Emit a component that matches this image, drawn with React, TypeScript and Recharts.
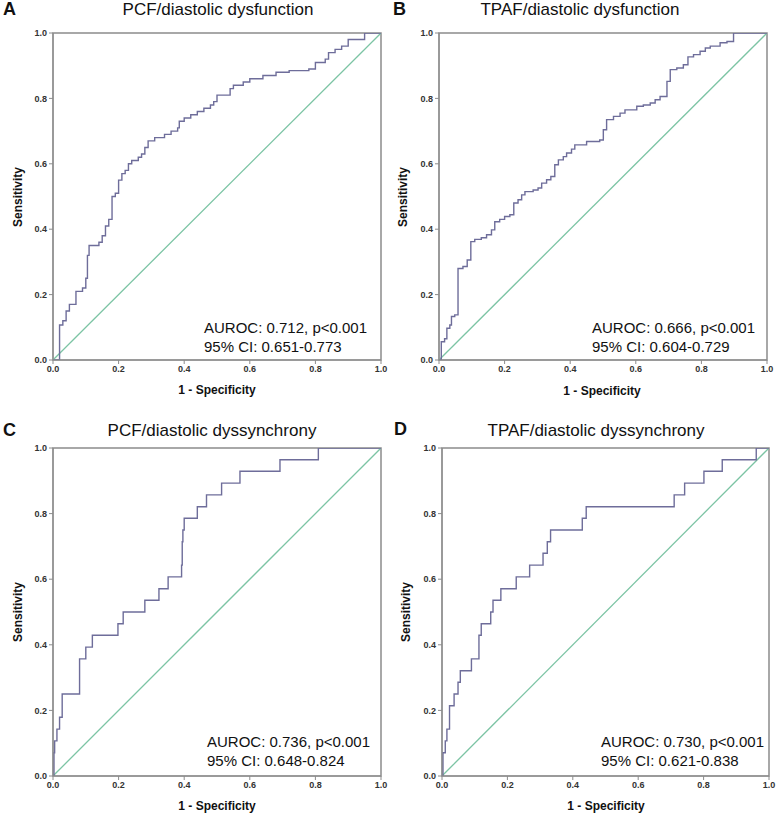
import { LineChart, Line, XAxis, YAxis, ReferenceArea } from "recharts";

// 1 - specificity (fpr) and sensitivity (tpr) at the top of each step
const pcfDysfunctionFpr = [0, 0.02, 0.03, 0.04, 0.05, 0.07, 0.09, 0.1, 0.105, 0.11, 0.14, 0.15, 0.16, 0.17, 0.18, 0.19, 0.2, 0.21, 0.22, 0.23, 0.24, 0.26, 0.27, 0.28, 0.29, 0.31, 0.34, 0.36, 0.38, 0.385, 0.4, 0.42, 0.44, 0.46, 0.48, 0.49, 0.5, 0.54, 0.55, 0.58, 0.6, 0.64, 0.68, 0.72, 0.78, 0.8, 0.83, 0.84, 0.86, 0.88, 0.9, 0.95, 1.0];
const pcfDysfunctionTpr = [0, 0.107, 0.12, 0.15, 0.17, 0.21, 0.22, 0.25, 0.32, 0.35, 0.36, 0.38, 0.41, 0.43, 0.5, 0.51, 0.55, 0.57, 0.58, 0.6, 0.61, 0.62, 0.63, 0.65, 0.67, 0.68, 0.69, 0.7, 0.71, 0.73, 0.74, 0.75, 0.76, 0.77, 0.78, 0.79, 0.81, 0.83, 0.84, 0.85, 0.86, 0.87, 0.88, 0.885, 0.89, 0.91, 0.92, 0.94, 0.95, 0.96, 0.98, 1.0, 1.0];

const tpafDysfunctionFpr = [0, 0.007, 0.017, 0.024, 0.033, 0.038, 0.048, 0.058, 0.058, 0.073, 0.086, 0.097, 0.109, 0.129, 0.145, 0.16, 0.17, 0.185, 0.2, 0.216, 0.228, 0.241, 0.252, 0.262, 0.287, 0.302, 0.313, 0.328, 0.341, 0.353, 0.364, 0.379, 0.389, 0.404, 0.414, 0.45, 0.49, 0.501, 0.511, 0.532, 0.552, 0.567, 0.603, 0.623, 0.644, 0.659, 0.674, 0.695, 0.695, 0.705, 0.725, 0.745, 0.759, 0.776, 0.796, 0.812, 0.827, 0.857, 0.878, 0.898, 1.0];
const tpafDysfunctionTpr = [0, 0.056, 0.065, 0.097, 0.107, 0.133, 0.138, 0.143, 0.28, 0.286, 0.306, 0.362, 0.369, 0.374, 0.383, 0.398, 0.423, 0.43, 0.439, 0.444, 0.48, 0.49, 0.505, 0.515, 0.52, 0.526, 0.541, 0.551, 0.561, 0.597, 0.612, 0.622, 0.633, 0.645, 0.658, 0.668, 0.673, 0.704, 0.735, 0.745, 0.755, 0.765, 0.776, 0.78, 0.786, 0.796, 0.806, 0.827, 0.852, 0.888, 0.893, 0.903, 0.927, 0.934, 0.944, 0.954, 0.96, 0.97, 0.974, 1.0, 1.0];

const pcfDyssyncFpr = [0, 0.003, 0.005, 0.012, 0.02, 0.028, 0.081, 0.1, 0.12, 0.198, 0.214, 0.28, 0.323, 0.351, 0.392, 0.394, 0.396, 0.4, 0.44, 0.468, 0.514, 0.57, 0.692, 0.809, 1.0];
const pcfDyssyncTpr = [0, 0.071, 0.107, 0.143, 0.179, 0.25, 0.357, 0.393, 0.429, 0.464, 0.5, 0.536, 0.571, 0.607, 0.643, 0.714, 0.75, 0.786, 0.821, 0.857, 0.893, 0.929, 0.964, 1.0, 1.0];

const tpafDyssyncFpr = [0, 0.003, 0.01, 0.015, 0.023, 0.037, 0.049, 0.056, 0.09, 0.113, 0.12, 0.149, 0.156, 0.18, 0.227, 0.268, 0.309, 0.322, 0.332, 0.429, 0.441, 0.71, 0.742, 0.801, 0.857, 0.961, 1.0];
const tpafDyssyncTpr = [0, 0.071, 0.107, 0.143, 0.214, 0.25, 0.286, 0.321, 0.357, 0.429, 0.464, 0.5, 0.536, 0.571, 0.607, 0.643, 0.679, 0.714, 0.75, 0.786, 0.821, 0.857, 0.893, 0.929, 0.964, 1.0, 1.0];

const diagonalX = [0, 1];
const diagonalY = [0, 1];

const axisTicks = [0, 0.2, 0.4, 0.6, 0.8, 1.0];

const titles = ["PCF/diastolic dysfunction", "TPAF/diastolic dysfunction", "PCF/diastolic dyssynchrony", "TPAF/diastolic dyssynchrony"];
const letters = ["A", "B", "C", "D"];
const aurocs = ["AUROC: 0.712, p<0.001", "AUROC: 0.666, p<0.001", "AUROC: 0.736, p<0.001", "AUROC: 0.730, p<0.001"];
const cis = ["95% CI: 0.651-0.773", "95% CI: 0.604-0.729", "95% CI: 0.648-0.824", "95% CI: 0.621-0.838"];

const toPoints = (xs: number[], ys: number[]) => xs.map((x, i) => ({ x, y: ys[i] }));

const curves = [
  toPoints(pcfDysfunctionFpr, pcfDysfunctionTpr),
  toPoints(tpafDysfunctionFpr, tpafDysfunctionTpr),
  toPoints(pcfDyssyncFpr, pcfDyssyncTpr),
  toPoints(tpafDyssyncFpr, tpafDyssyncTpr),
];
const diagonal = toPoints(diagonalX, diagonalY);

// layout of each panel on the page
const panels = [
  { left: 0, top: 0, w: 390, h: 410, margin: { top: 33, right: 9, bottom: 20, left: 23 }, xAxisH: 30 },
  { left: 390, top: 0, w: 388, h: 410, margin: { top: 33, right: 11, bottom: 20, left: 19 }, xAxisH: 30 },
  { left: 0, top: 410, w: 390, h: 411, margin: { top: 38, right: 9, bottom: 15, left: 23 }, xAxisH: 30 },
  { left: 390, top: 410, w: 388, h: 411, margin: { top: 38, right: 9, bottom: 15, left: 22 }, xAxisH: 30 },
];

const labels = [
  { letterX: 3, letterY: 15, titleX: 218, titleY: 15, statX: 204, statY: 333, sensX: 22, sensY: 197, specX: 217, specY: 394 },
  { letterX: 393, letterY: 15, titleX: 580, titleY: 15, statX: 592, statY: 333, sensX: 407, sensY: 197, specX: 602, specY: 395 },
  { letterX: 3, letterY: 436, titleX: 212, titleY: 436, statX: 207, statY: 747, sensX: 22, sensY: 612, specX: 217, specY: 810 },
  { letterX: 394, letterY: 435, titleX: 596, titleY: 436, statX: 601, statY: 747, sensX: 410, sensY: 612, specX: 606, specY: 810 },
];

const FONT = "'Liberation Sans', Arial, sans-serif";
const tickStyle = { fontSize: 9, fontWeight: 700, fill: "#333", fontFamily: FONT };

function RocPanel({ idx }: { idx: number }) {
  const p = panels[idx];
  return (
    <div style={{ position: "absolute", left: p.left, top: p.top }}>
      <LineChart width={p.w} height={p.h} margin={p.margin}>
        <XAxis
          type="number"
          dataKey="x"
          domain={[0, 1]}
          ticks={axisTicks}
          tickFormatter={(v: number) => v.toFixed(1)}
          tick={tickStyle}
          tickSize={4}
          height={p.xAxisH}
          stroke="#8c8c8c"
          allowDataOverflow
        />
        <YAxis
          type="number"
          dataKey="y"
          domain={[0, 1]}
          ticks={axisTicks}
          tickFormatter={(v: number) => v.toFixed(1)}
          tick={tickStyle}
          tickSize={4}
          width={30}
          stroke="#8c8c8c"
          allowDataOverflow
        />
        <ReferenceArea x1={0} x2={1} y1={0} y2={1} fill="none" stroke="#8c8c8c" strokeWidth={1.5} />
        <Line
          data={diagonal}
          dataKey="y"
          type="linear"
          stroke="#7cc4a4"
          strokeWidth={1.3}
          dot={false}
          activeDot={false}
          isAnimationActive={false}
        />
        <Line
          data={curves[idx]}
          dataKey="y"
          type="stepAfter"
          stroke="#6e6d9a"
          strokeWidth={1.4}
          dot={false}
          activeDot={false}
          isAnimationActive={false}
        />
      </LineChart>
    </div>
  );
}

export default function App() {
  return (
    <div style={{ position: "absolute", left: 0, top: 0, width: 778, height: 821, background: "#fff" }}>
      {panels.map((_, i) => (
        <RocPanel key={i} idx={i} />
      ))}
      <svg
        width={778}
        height={821}
        style={{ position: "absolute", left: 0, top: 0, pointerEvents: "none" }}
        fontFamily={FONT}
      >
        {labels.map((l, i) => (
          <g key={i} fill="#111">
            <text x={l.letterX} y={l.letterY} fontSize={18} fontWeight={700}>
              {letters[i]}
            </text>
            <text x={l.titleX} y={l.titleY} fontSize={17} textAnchor="middle">
              {titles[i]}
            </text>
            <text x={l.statX} y={l.statY} fontSize={15}>
              {aurocs[i]}
            </text>
            <text x={l.statX} y={l.statY + 19} fontSize={15}>
              {cis[i]}
            </text>
            <text
              x={l.sensX}
              y={l.sensY}
              fontSize={12}
              fontWeight={700}
              textAnchor="middle"
              transform={`rotate(-90 ${l.sensX} ${l.sensY})`}
            >
              Sensitivity
            </text>
            <text x={l.specX} y={l.specY} fontSize={12} fontWeight={700} textAnchor="middle">
              1 - Specificity
            </text>
          </g>
        ))}
      </svg>
    </div>
  );
}
